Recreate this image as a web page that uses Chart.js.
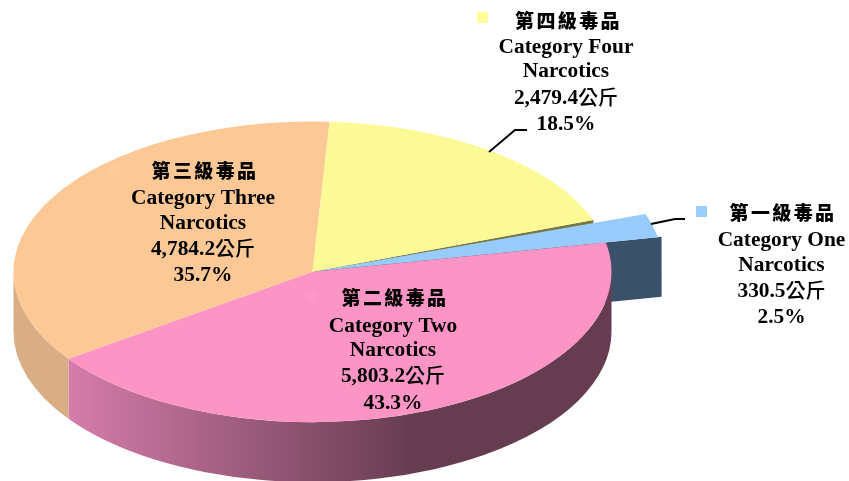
<!DOCTYPE html>
<html>
<head>
<meta charset="utf-8">
<style>html,body{margin:0;padding:0;background:#fff;overflow:hidden}canvas{display:block}</style>
<script src="https://cdn.jsdelivr.net/npm/chart.js@4"></script>
</head>
<body>
<canvas id="c" width="849" height="481"></canvas>
<script>
const namesZh = ['第一級毒品', '第二級毒品', '第三級毒品', '第四級毒品'];
const namesEn = ['Category One', 'Category Two', 'Category Three', 'Category Four'];
const values = [330.5, 5803.2, 4784.2, 2479.4];
const valueLabels = ['330.5', '5,803.2', '4,784.2', '2,479.4'];
const unitLabel = '公斤';
const percentLabels = ['2.5%', '43.3%', '35.7%', '18.5%'];

const sliceColors = ['#97CBFB', '#FC94C6', '#FBC896', '#FCFA96'];
const keyColors = ['#99CCFF', '#FE98CA', '#FDCB99', '#FFFF99'];
const K = 0.503, DEPTH = 60, BIG_R = 349, TAPER = 1.0 * Math.PI / 180;

const labelLayout = [
  {key:[696,206], zh:[783,213], lines:[[781.5,240],[781.5,265],[781.5,291],[781.5,317]]},
  {key:[306,291], zh:[395,298], lines:[[393,326],[393,350],[393,376],[393,403]]},
  {key:[109,163], zh:[205,171], lines:[[203,198],[203,223],[203,249],[203,275]]},
  {key:[477,12],  zh:[568.5,20.5], lines:[[566,47],[566,71],[566,98],[566,124]]}
];
const leaders = [
  [[651,224],[675,219],[685,219]],
  [[489,152],[515,130],[527,130]]
];

const pie3d = {
  id: 'pie3d',
  afterDatasetsUpdate(chart) {
    const first = chart.getDatasetMeta(0).data[0];
    first.outerRadius = BIG_R;
    first.startAngle += TAPER;
    first.circumference -= TAPER;
  },
  beforeDatasetsDraw(chart) {
    const ctx = chart.ctx, arcs = chart.getDatasetMeta(0).data;
    const cx = arcs[1].x, cy = arcs[1].y, R = arcs[1].outerRadius, ry = R * K;
    const face = (a, ox, oy, r, color) => {
      const x0 = cx + ox, y0 = cy + oy;
      const x1 = x0 + Math.cos(a) * r, y1 = y0 + Math.sin(a) * r * K;
      ctx.fillStyle = color;
      ctx.beginPath();
      ctx.moveTo(x0, y0); ctx.lineTo(x1, y1);
      ctx.lineTo(x1, y1 + DEPTH); ctx.lineTo(x0, y0 + DEPTH);
      ctx.closePath(); ctx.fill();
    };
    // cut faces seen through the gap around the exploded slice
    face(arcs[3].endAngle, 0, 0, R, '#78783F');
    const off = arcs[0].options.offset;
    const mid = (arcs[0].startAngle + arcs[0].endAngle) / 2;
    face(arcs[0].endAngle, Math.cos(mid) * off, Math.sin(mid) * off * K, arcs[0].outerRadius, '#3B5069');
    // outer rim walls
    const grad = ctx.createLinearGradient(67, 0, 415, 0);
    grad.addColorStop(0, '#D67DAB');
    grad.addColorStop(1, '#663C50');
    const wallFill = [null, grad, '#D9AE84', null];
    arcs.forEach((arc, i) => {
      if (!wallFill[i]) return;
      const a0 = Math.max(arc.startAngle, 0), a1 = Math.min(arc.endAngle, Math.PI);
      if (a1 <= a0) return;
      ctx.fillStyle = wallFill[i];
      ctx.beginPath();
      ctx.ellipse(cx, cy, R, ry, 0, a0, a1);
      ctx.ellipse(cx, cy + DEPTH, R, ry, 0, a1, a0, true);
      ctx.closePath(); ctx.fill();
    });
    ctx.save();
    ctx.translate(0, cy);
    ctx.scale(1, K);
    ctx.translate(0, -cy);
  },
  afterDatasetsDraw(chart) {
    const ctx = chart.ctx;
    ctx.restore();
    ctx.strokeStyle = '#000';
    ctx.lineWidth = 1.8;
    leaders.forEach(pts => {
      ctx.beginPath();
      pts.forEach((p, i) => i ? ctx.lineTo(p[0], p[1]) : ctx.moveTo(p[0], p[1]));
      ctx.stroke();
    });
    ctx.textBaseline = 'alphabetic';
    const EN_FONT = 'bold 21.4px "Liberation Serif"';
    const UNIT_FONT = '500 20px "Noto Sans CJK TC"';
    labelLayout.forEach((l, i) => {
      ctx.fillStyle = keyColors[i];
      ctx.fillRect(l.key[0], l.key[1], 11, 11);
      ctx.fillStyle = '#000';
      ctx.textAlign = 'center';
      ctx.font = '900 19px "Noto Sans CJK TC"';
      ctx.letterSpacing = '2.4px';
      ctx.fillText(namesZh[i], l.zh[0], l.zh[1] + 7);
      ctx.letterSpacing = '0px';
      ctx.font = EN_FONT;
      ctx.fillText(namesEn[i], l.lines[0][0], l.lines[0][1] + 6);
      ctx.fillText('Narcotics', l.lines[1][0], l.lines[1][1] + 6);
      ctx.fillText(percentLabels[i], l.lines[3][0], l.lines[3][1] + 6);
      // number and unit share one line but use different faces
      const numW = ctx.measureText(valueLabels[i]).width;
      ctx.font = UNIT_FONT;
      const unitW = ctx.measureText(unitLabel).width;
      const left = l.lines[2][0] - (numW + unitW) / 2;
      ctx.textAlign = 'left';
      ctx.font = EN_FONT;
      ctx.fillText(valueLabels[i], left, l.lines[2][1] + 6);
      ctx.font = UNIT_FONT;
      ctx.fillText(unitLabel, left + numW, l.lines[2][1] + 7);
    });
  }
};

new Chart(document.getElementById('c'), {
  type: 'pie',
  data: {
    labels: namesEn,
    datasets: [{
      data: values,
      backgroundColor: sliceColors,
      borderWidth: 0,
      offset: [7, 0, 0, 0],
      clip: false
    }]
  },
  options: {
    responsive: false,
    animation: false,
    events: [],
    rotation: 69.9,
    radius: 299,
    layout: {padding: {left: 0, right: 224, top: 62.6, bottom: 0}},
    plugins: {legend: {display: false}, tooltip: {enabled: false}}
  },
  plugins: [pie3d]
});
</script>
</body>
</html>
